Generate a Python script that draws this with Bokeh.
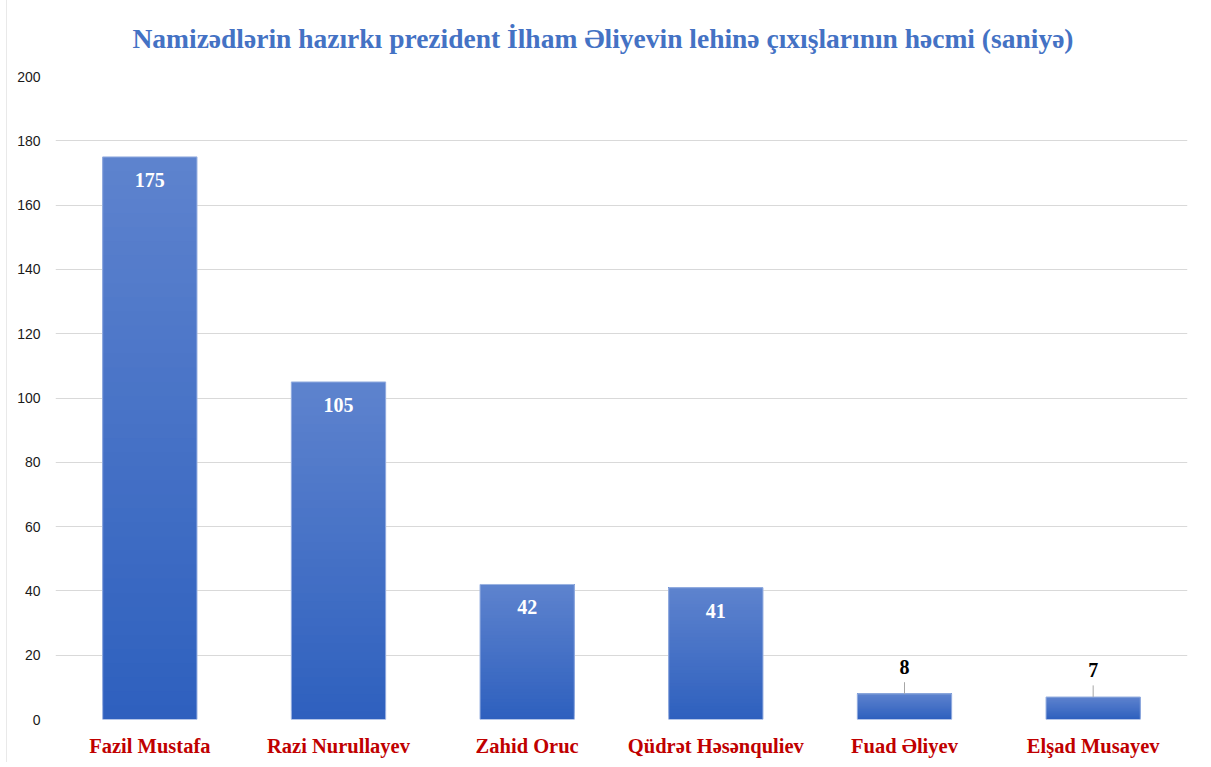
from bokeh.plotting import figure
from bokeh.models import ColumnDataSource, LabelSet, FixedTicker, Range1d
from bokeh.core.properties import value
from bokeh.embed import file_html
from bokeh.resources import INLINE

# ---- data ----
names = ["Fazil Mustafa", "Razi Nurullayev", "Zahid Oruc", "Qüdrət Həsənquliev", "Fuad Əliyev", "Elşad Musayev"]
seconds = [175, 105, 42, 41, 8, 7]
y_ticks = [0, 20, 40, 60, 80, 100, 120, 140, 160, 180, 200]
title_text = "Namizədlərin hazırkı prezident İlham Əliyevin lehinə çıxışlarının həcmi (saniyə)"

W, H = 1200, 766
p = figure(x_range=names, y_range=Range1d(0, 200), width=W, height=H,
           output_backend="svg", toolbar_location=None,
           min_border_left=49, min_border_right=19, min_border_top=80, min_border_bottom=43)
p.styles = {"outline": "2px solid #e2e2e2", "outline-offset": "-2px",
            "margin-left": "6px", "margin-top": "-4px"}

p.title.text = title_text
p.title.align = "left"
p.title.offset = 77
p.title.standoff = 46
p.title.text_color = "#4472c4"
p.title.text_font = "Liberation Serif"
p.title.text_font_style = "bold"
p.title.text_font_size = "27.5px"

# gradient bars: overlapping slices, light at top -> darker at bottom
top_rgb = (94, 131, 206)
bot_rgb = (46, 96, 190)
N = 40
xs, b, t, cols = [], [], [], []
for i in range(N):
    f = (i + 0.5) / N
    c = "#%02x%02x%02x" % tuple(int(round(bot_rgb[k] + (top_rgb[k] - bot_rgb[k]) * f)) for k in range(3))
    for nm, v in zip(names, seconds):
        xs.append(nm)
        b.append(v * i / N)
        t.append(v)
        cols.append(c)
p.vbar(x=xs, bottom=b, top=t, width=0.5, fill_color=cols, line_color=None)
# thin light edge
p.vbar(x=names, top=seconds, width=0.5, fill_color=None, line_color="#9db4e2", line_width=1)

# value labels
inside = [v > 20 for v in seconds]
src_in = ColumnDataSource(dict(x=[n for n, i in zip(names, inside) if i],
                               y=[v for v, i in zip(seconds, inside) if i],
                               t=[str(v) for v, i in zip(seconds, inside) if i]))
src_out = ColumnDataSource(dict(x=[n for n, i in zip(names, inside) if not i],
                                y=[v for v, i in zip(seconds, inside) if not i],
                                y1=[v + 3.6 for v, i in zip(seconds, inside) if not i],
                                t=[str(v) for v, i in zip(seconds, inside) if not i]))
p.add_layout(LabelSet(x="x", y="y", text="t", source=src_in, text_align="center",
                      text_baseline="middle", y_offset=-23, text_color="white",
                      text_font=value("Liberation Serif"), text_font_style="bold",
                      text_font_size="20px"))
p.segment(x0="x", y0="y", x1="x", y1="y1", source=src_out, line_color="#a6a6a6", line_width=1)
p.add_layout(LabelSet(x="x", y="y1", text="t", source=src_out, text_align="center",
                      text_baseline="middle", y_offset=15, text_color="black",
                      text_font=value("Liberation Serif"), text_font_style="bold",
                      text_font_size="20px"))

# axes & grid
p.outline_line_color = None
p.xgrid.grid_line_color = None
p.ygrid.grid_line_color = "#d9d9d9"
p.ygrid.grid_line_width = 1
p.yaxis.ticker = FixedTicker(ticks=y_ticks)
p.yaxis.axis_line_color = None
p.yaxis.major_tick_line_color = None
p.yaxis.minor_tick_line_color = None
p.yaxis.major_label_standoff = 9
p.yaxis.major_label_text_font = "Liberation Sans"
p.yaxis.major_label_text_font_size = "14px"
p.yaxis.major_label_text_color = "#1a1a1a"
p.xaxis.axis_line_color = None
p.xaxis.major_tick_line_color = None
p.xaxis.major_label_standoff = 9
p.xaxis.major_label_text_font = "Liberation Serif"
p.xaxis.major_label_text_font_style = "bold"
p.xaxis.major_label_text_font_size = "20.5px"
p.xaxis.major_label_text_color = "#c00000"
p.x_range.range_padding = 0

open("out.html", "w").write(file_html(p, INLINE))
